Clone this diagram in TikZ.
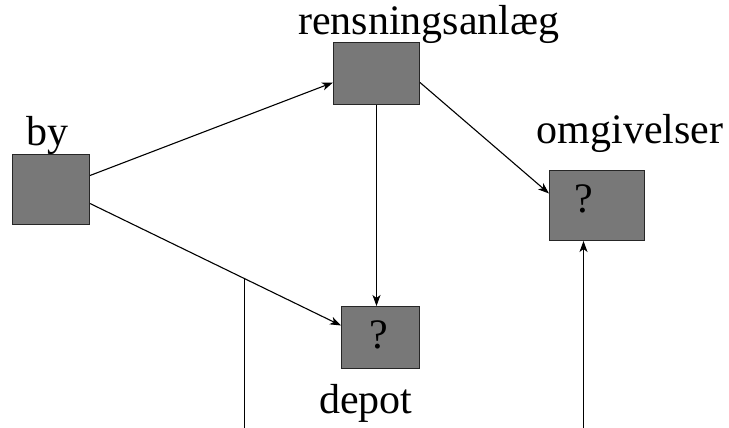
\documentclass[tikz,border=0pt]{standalone}
\usepackage{fontspec}
\setmainfont{Liberation Serif}
\usetikzlibrary{arrows.meta}
\begin{document}
\begin{tikzpicture}[x=1pt,y=-1pt,
  box/.style={draw=black!85,fill=black!53,line width=1pt,inner sep=0pt,anchor=north west},
  lbl/.style={anchor=base,inner sep=0pt,font=\fontsize{42}{42}\selectfont},
  flow/.style={line width=1.1pt,-{Stealth[length=11pt,width=8pt,inset=3pt]}}]
  \useasboundingbox (0,0) rectangle (729,428);

  % boxes
  \node[box,minimum width=77pt,minimum height=70pt] (by) at (12,154) {};
  \node[box,minimum width=86pt,minimum height=62pt] (rens) at (333,42) {};
  \node[box,minimum width=95pt,minimum height=70pt] (omg) at (549,170) {};
  \node[box,minimum width=78pt,minimum height=62pt] (depot) at (341,306) {};

  % labels
  \node[lbl] (byl) at (48,145) {by};
  \node[lbl] (rensl) at (429,35) {rensningsanlæg};
  \node[lbl] (omgl) at (630,143) {omgivelser};
  \node[lbl] (depotl) at (366,413) {depot};
  \node[lbl] (q1) at (379,348) {?};
  \node[lbl] (q2) at (584,212) {?};

  % free ends at the lower edge
  \coordinate (bot1) at (245,428);
  \coordinate (bot2) at (583.5,428);

  % connectors
  \draw[flow] ([yshift=14pt]by.east) -- ([yshift=-9pt]rens.west);
  \draw[flow] ([yshift=-14pt]by.east) -- ([yshift=12pt]depot.west) coordinate[pos=0.615] (j);
  \draw[flow] (rens.south) -- (rens.south |- depot.north);
  \draw[flow] ([yshift=-9pt]rens.east) -- ([yshift=12pt]omg.west);
  \draw[line width=1.1pt] (j) -- (j |- bot1);
  \draw[flow] (bot2) -- (bot2 |- omg.south);
\end{tikzpicture}
\end{document}
